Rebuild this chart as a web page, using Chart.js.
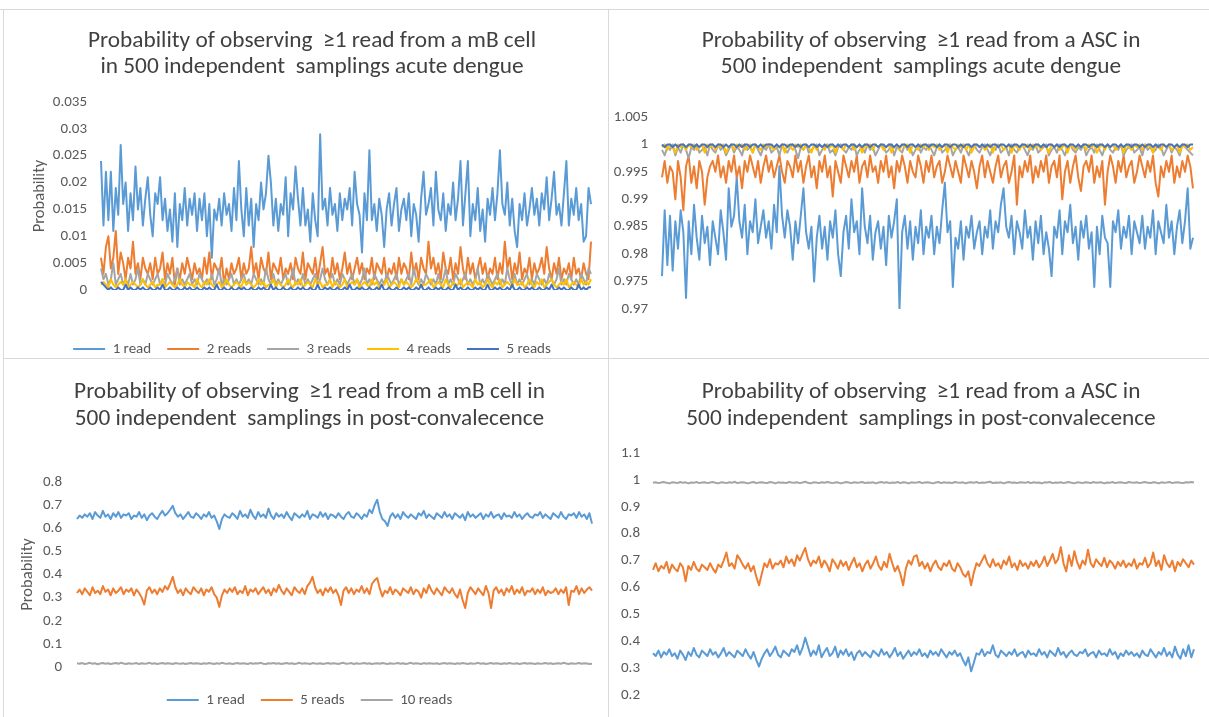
<!DOCTYPE html>
<html><head><meta charset="utf-8">
<script src="https://cdn.jsdelivr.net/npm/chart.js@4.4.1/dist/chart.umd.min.js"></script>
<style>
html,body{margin:0;padding:0;background:#fff;}
body{width:1209px;height:717px;position:relative;overflow:hidden;}
canvas{position:absolute;}
.ln{position:absolute;background:#d9d9d9;}
</style></head><body>
<canvas id="c1" width="605" height="349" style="left:3px;top:9px"></canvas>
<canvas id="c2" width="601" height="349" style="left:608px;top:9px"></canvas>
<canvas id="c3" width="605" height="359" style="left:3px;top:358px"></canvas>
<canvas id="c4" width="601" height="359" style="left:608px;top:358px"></canvas>
<div class="ln" style="left:0;top:9px;width:1209px;height:1px"></div>
<div class="ln" style="left:3px;top:9px;width:1px;height:708px"></div>
<div class="ln" style="left:608px;top:9px;width:1px;height:708px"></div>
<div class="ln" style="left:3px;top:358px;width:1206px;height:1px"></div>
<script>
// ---------- DATA ----------
// Top-left: mB cell, acute dengue
const tl1read = [.024,.012,.022,.013,.022,.011,.019,.014,.027,.016,.020,.011,.018,.013,.023,.015,.019,.012,.017,.021,
.014,.010,.018,.016,.021,.013,.017,.011,.015,.009,.018,.008,.016,.013,.019,.012,.017,.014,.018,.011,
.017,.013,.018,.010,.016,.006,.015,.013,.017,.012,.018,.014,.016,.011,.019,.013,.024,.015,.010,.019,
.012,.017,.008,.016,.013,.020,.015,.018,.025,.020,.012,.017,.011,.016,.014,.021,.010,.018,.015,.023,
.017,.012,.019,.012,.015,.009,.018,.013,.010,.029,.015,.017,.012,.019,.014,.016,.011,.018,.013,.017,
.015,.019,.012,.022,.016,.014,.007,.018,.013,.026,.013,.016,.011,.017,.014,.008,.015,.018,.012,.016,
.019,.011,.015,.017,.013,.018,.010,.016,.014,.009,.017,.022,.014,.016,.019,.012,.022,.015,.013,.018,
.011,.016,.014,.020,.013,.017,.024,.012,.018,.024,.010,.016,.013,.019,.011,.015,.009,.017,.014,.019,
.013,.018,.026,.016,.014,.020,.012,.017,.011,.008,.016,.013,.018,.012,.015,.019,.014,.017,.012,.018,
.015,.021,.013,.017,.022,.014,.016,.012,.018,.024,.012,.017,.014,.019,.013,.016,.009,.010,.019,.016];
const tl2reads = [.006,.003,.008,.010,.004,.006,.011,.003,.007,.005,.002,.006,.004,.009,.003,.005,.002,.006,.004,.003,
.005,.002,.006,.003,.004,.007,.002,.005,.003,.006,.001,.004,.002,.005,.003,.006,.004,.002,.005,.003,
.004,.002,.006,.003,.007,.002,.005,.004,.003,.006,.001,.004,.002,.005,.003,.004,.006,.002,.005,.003,
.004,.008,.003,.005,.002,.006,.004,.003,.007,.002,.005,.004,.003,.006,.002,.004,.003,.005,.002,.006,
.004,.003,.007,.002,.005,.004,.003,.006,.002,.005,.008,.003,.004,.002,.006,.003,.005,.002,.004,.007,
.003,.005,.002,.004,.006,.003,.005,.002,.004,.003,.006,.002,.005,.004,.003,.006,.002,.004,.003,.005,
.002,.006,.003,.005,.004,.002,.007,.003,.005,.002,.006,.004,.003,.009,.004,.006,.003,.005,.002,.007,
.004,.003,.006,.002,.005,.003,.008,.004,.002,.006,.003,.005,.002,.004,.006,.003,.005,.002,.004,.003,
.006,.002,.005,.003,.009,.004,.006,.002,.005,.003,.007,.002,.004,.003,.006,.002,.005,.003,.004,.006,
.003,.008,.004,.002,.005,.003,.006,.002,.004,.003,.005,.002,.006,.003,.004,.002,.005,.003,.002,.009];
const tl3reads = [.004,.002,.003,.001,.002,.005,.001,.002,.003,.001,.002,.001,.003,.001,.002,.004,.001,.002,.001,.003,
.002,.001,.002,.003,.001,.002,.001,.003,.002,.001,.002,.004,.001,.002,.001,.002,.003,.001,.002,.001,
.003,.002,.001,.002,.001,.003,.001,.002,.004,.001,.002,.001,.002,.003,.001,.002,.001,.002,.003,.001,
.002,.001,.003,.002,.001,.002,.001,.004,.002,.001,.003,.001,.002,.001,.002,.003,.001,.002,.004,.001,
.002,.001,.003,.001,.002,.001,.002,.003,.001,.002,.004,.002,.001,.002,.003,.001,.002,.001,.003,.002,
.001,.002,.003,.001,.002,.001,.002,.004,.001,.002,.001,.003,.002,.001,.002,.001,.003,.002,.001,.002,
.003,.001,.002,.001,.002,.003,.001,.004,.002,.001,.002,.001,.003,.002,.001,.002,.001,.003,.001,.002,
.004,.001,.002,.001,.003,.002,.001,.002,.003,.001,.002,.001,.002,.004,.001,.002,.001,.003,.002,.001,
.002,.003,.001,.002,.001,.004,.002,.001,.003,.001,.002,.001,.002,.003,.001,.002,.001,.003,.002,.001,
.002,.001,.003,.002,.001,.002,.004,.001,.002,.001,.003,.002,.001,.002,.001,.003,.002,.001,.004,.003];
const tl4reads = [.001,.0015,.001,.0005,.002,.001,.0005,.001,.0015,.001,.002,.0005,.001,.0015,.001,.0005,.001,.002,.001,.0005,
.001,.0015,.0005,.001,.001,.002,.0005,.001,.0015,.001,.0005,.001,.002,.001,.0005,.0015,.001,.001,.0005,.002,
.001,.0005,.0015,.001,.002,.001,.0005,.001,.0015,.0005,.001,.002,.001,.0005,.001,.0015,.001,.0005,.002,.001,
.0015,.001,.0005,.001,.002,.001,.0015,.0005,.001,.001,.002,.0005,.0015,.001,.0005,.001,.002,.001,.0005,.0015,
.001,.002,.0005,.001,.0015,.001,.0005,.002,.001,.0015,.0005,.001,.001,.002,.0005,.0015,.001,.0005,.001,.002,
.0005,.001,.0015,.001,.002,.0005,.001,.0015,.001,.0005,.002,.001,.0015,.0005,.001,.001,.002,.0005,.001,.0015,
.001,.0005,.002,.001,.0015,.001,.0005,.001,.002,.0015,.0005,.001,.001,.0015,.002,.0005,.001,.0015,.001,.0005,
.002,.001,.0005,.0015,.001,.001,.002,.0005,.001,.0015,.001,.0005,.002,.001,.0015,.0005,.001,.002,.001,.0005,
.0015,.001,.002,.0005,.001,.0015,.001,.0005,.002,.001,.001,.0015,.0005,.001,.002,.001,.0005,.0015,.001,.002,
.0005,.001,.0015,.002,.001,.0005,.001,.0015,.001,.002,.0005,.001,.0015,.001,.0005,.002,.001,.0015,.001,.002];
const tl5reads = [.0015,.001,.0005,0,.0005,0,0,.0005,0,0,.001,0,.0005,0,0,.0005,0,.0005,0,0,
.0005,0,0,.0005,0,.001,0,0,.0005,0,0,.0005,0,0,.0005,0,.0005,0,0,.0005,
0,0,.0005,0,.0005,0,0,.001,0,0,.0005,0,0,.0005,0,0,.0005,0,.0005,0,
0,.0005,0,0,.0005,0,.0005,0,0,.001,0,.0005,0,0,.0005,0,0,.0005,0,0,
.0005,0,.0005,0,0,.0005,0,0,.001,0,0,.0005,0,.0005,0,0,.0005,0,0,.0005,
0,.001,0,0,.0005,0,.0005,0,0,.0005,0,0,.0005,0,.001,0,0,.0005,0,0,
.0005,0,0,.0005,0,.0005,0,0,.0005,0,.001,0,0,.0005,0,0,.0005,0,.0005,0,
0,.0005,0,0,.001,0,.0005,0,0,.0005,0,0,.0005,0,.0005,0,0,.001,0,0,
.0005,0,.0005,0,0,.0005,0,.001,0,0,.0005,0,0,.0005,0,.0005,0,0,.0005,0,
0,.0005,0,.001,0,0,.0005,0,.0005,0,0,.0005,0,0,.001,0,.0005,0,.0005,.0005];

// Top-right: ASC, acute dengue
const tr1read = [.976,.988,.978,.987,.977,.986,.981,.988,.984,.972,.986,.980,.989,.983,.979,.987,.982,.985,.978,.986,
.983,.980,.988,.984,.979,.992,.985,.987,.994,.986,.983,.989,.980,.986,.984,.990,.982,.985,.988,.983,
.986,.981,.989,.984,.996,.987,.983,.988,.985,.979,.986,.982,.987,.992,.984,.981,.985,.975,.983,.987,
.981,.985,.979,.986,.983,.988,.980,.976,.984,.987,.981,.990,.984,.986,.980,.992,.985,.982,.987,.979,
.984,.986,.981,.985,.978,.987,.983,.986,.990,.970,.984,.987,.981,.986,.979,.985,.982,.988,.980,.985,
.983,.987,.980,.985,.982,.988,.993,.984,.986,.974,.983,.981,.986,.979,.985,.983,.987,.981,.984,.986,
.980,.985,.983,.988,.981,.986,.984,.989,.992,.985,.983,.987,.980,.986,.984,.981,.988,.983,.985,.979,
.986,.982,.987,.980,.984,.981,.976,.985,.983,.988,.980,.986,.984,.989,.982,.985,.979,.986,.983,.987,
.981,.984,.974,.985,.980,.987,.983,.982,.974,.986,.984,.988,.981,.985,.983,.987,.980,.986,.984,.982,
.987,.981,.985,.983,.988,.980,.986,.984,.982,.989,.983,.986,.980,.985,.988,.982,.986,.992,.981,.983];
const tr2reads = [.994,.997,.993,.996,.995,.990,.997,.994,.988,.996,.998,.993,.996,.992,.997,.995,.989,.994,.996,.997,
.995,.998,.994,.996,.993,.997,.995,.998,.994,.996,.992,.997,.995,.998,.996,.994,.997,.993,.996,.998,
.995,.997,.994,.996,.998,.995,.993,.997,.996,.994,.998,.995,.997,.993,.996,.998,.994,.996,.992,.997,
.995,.998,.994,.996,.9905,.997,.995,.993,.998,.996,.994,.997,.995,.998,.993,.996,.997,.994,.998,.995,
.996,.993,.997,.995,.998,.994,.996,.992,.997,.995,.998,.996,.993,.997,.995,.994,.998,.996,.993,.997,
.995,.998,.994,.996,.997,.993,.995,.998,.996,.994,.997,.995,.993,.998,.996,.994,.997,.995,.992,.996,
.998,.994,.997,.995,.993,.996,.998,.994,.996,.997,.993,.995,.998,.989,.996,.994,.997,.995,.998,.993,
.996,.994,.997,.995,.998,.993,.996,.997,.994,.998,.990,.995,.997,.993,.996,.998,.994,.9915,.996,.997,
.995,.998,.993,.996,.994,.997,.989,.995,.998,.996,.993,.997,.995,.998,.994,.996,.997,.993,.995,.998,
.996,.994,.997,.995,.998,.993,.9905,.996,.994,.997,.995,.998,.993,.996,.994,.997,.995,.998,.996,.992];
const tr3reads = [.999,.998,.9995,.999,1,.998,.9995,.9985,1,.999,.9975,.9995,.999,1,.9985,.999,.9995,.998,1,.999,
.9985,1,.999,.9995,.998,.999,1,.9985,.9995,.999,.998,1,.999,.9995,.9985,1,.999,.998,.9995,.999,
1,.9985,.999,.9995,.998,1,.999,.9985,.9995,1,.999,.9975,.9995,.999,1,.9985,.999,.9995,1,.998,
.999,.9995,1,.9985,.999,.998,.9995,1,.999,.9985,.9995,.999,1,.998,.999,.9995,.9985,1,.999,.9995,
.998,.999,1,.9995,.9985,.999,1,.998,.9995,.999,.9985,1,.999,.9995,.998,.999,1,.9985,.9995,.999,
1,.999,.998,.9995,1,.9985,.999,.9995,1,.998,.999,.9995,.9985,1,.999,.998,.9995,1,.999,.9985,
.9995,1,.999,.998,.9995,.999,1,.9985,.999,.9995,.998,1,.999,.9985,.9995,1,.999,.998,.9995,.999,
1,.9985,.999,.9995,1,.998,.999,.9995,.9985,1,.999,.998,.9995,1,.999,.9985,.9995,.999,1,.998,
.999,.9995,.9985,1,.999,.998,.9995,1,.999,.9985,.9995,.999,1,.998,.999,.9995,1,.9985,.999,.9995,
.998,1,.999,.9995,.9985,.999,1,.9995,.998,.999,1,.9985,.9995,.999,.998,1,.9995,.999,.9985,.998];
const tr4reads = [.9995,1,.999,1,.9995,.9985,1,.9995,1,.999,1,.9995,1,.999,.9995,1,.9985,1,.9995,1,
.999,1,.9995,1,.9985,.9995,1,.999,1,.9995,1,.999,.9995,1,.9985,1,.9995,.999,1,.9995,
1,.9995,.999,1,.9995,1,.9985,1,.9995,.999,1,.9995,1,.999,1,.9995,.9985,1,.999,1,
.9995,.999,1,.9995,1,.9985,1,.9995,.999,1,.9995,1,.999,.9995,1,.9985,1,.9995,1,.999,
1,.9995,1,.999,.9995,1,.9985,.9995,1,.999,1,.9995,1,.9985,1,.9995,.999,1,.9995,1,
.999,1,.9995,1,.999,.9995,1,.9985,1,.9995,.999,1,.9995,1,.999,1,.9985,.9995,1,.9995,
1,.999,.9995,1,.9985,1,.9995,1,.999,.9995,1,.9985,1,.9995,.999,1,.9995,1,.999,1,
.9995,1,.999,1,.9995,.9985,1,.9995,1,.999,.9995,1,.9985,1,.9995,.999,1,.9995,1,.999,
1,.9995,1,.9985,.9995,1,.999,1,.9995,1,.999,.9995,1,.9985,1,.9995,.999,1,.9995,1,
.999,1,.9995,1,.9985,1,.9995,.999,1,.9995,1,.999,.9995,1,.9985,1,.9995,1,.999,.9995];
const tr5reads = [1,.9995,1,1,.9995,1,.9995,1,1,.9995,1,1,.9995,1,.9995,1,1,.9995,1,1,
.9995,1,1,.9995,1,.9995,1,1,.9995,1,.9995,1,1,.9995,1,1,.9995,1,.9995,1,
1,1,.9995,1,.9995,1,1,.9995,1,1,.9995,1,.9995,1,1,.9995,1,1,.9995,1,
.9995,1,.9995,1,1,.9995,1,.9995,1,1,.9995,1,1,.9995,1,.9995,1,1,.9995,1,
1,.9995,1,1,.9995,1,1,.9995,1,.9995,1,1,.9995,1,1,.9995,1,.9995,1,1,
.9995,1,1,.9995,1,.9995,1,1,.9995,1,1,.9995,1,.9995,1,1,.9995,1,1,.9995,
1,.9995,1,.9995,1,1,.9995,1,1,.9995,1,.9995,1,1,.9995,1,1,.9995,1,.9995,
1,1,.9995,1,.9995,1,1,.9995,1,.9995,1,1,.9995,1,1,.9995,1,.9995,1,1,
.9995,1,1,.9995,1,1,.9995,1,.9995,1,1,.9995,1,.9995,1,1,.9995,1,1,.9995,
1,.9995,1,1,.9995,1,.9995,1,1,.9995,1,1,.9995,1,.9995,1,1,.9995,1,1];

// Bottom-left: mB cell, post-convalescence
const bl1read = [.640,.655,.645,.660,.650,.665,.640,.670,.655,.645,.675,.650,.660,.640,.665,.650,.670,.645,.660,.655,
.665,.640,.655,.650,.670,.645,.660,.635,.655,.665,.650,.640,.660,.675,.655,.665,.680,.697,.665,.650,
.660,.640,.655,.670,.650,.645,.665,.655,.640,.660,.650,.670,.645,.655,.630,.597,.640,.660,.650,.645,
.665,.655,.640,.675,.650,.660,.645,.680,.655,.640,.670,.650,.660,.645,.685,.655,.640,.665,.650,.660,
.645,.670,.650,.635,.665,.655,.645,.660,.650,.675,.640,.660,.655,.645,.670,.650,.665,.640,.660,.655,
.645,.665,.650,.640,.660,.670,.650,.645,.665,.655,.640,.660,.650,.680,.665,.700,.723,.670,.640,.630,
.610,.650,.665,.645,.660,.640,.670,.655,.645,.660,.650,.640,.665,.655,.675,.645,.660,.650,.640,.665,
.655,.645,.670,.650,.660,.640,.665,.655,.645,.660,.635,.670,.650,.660,.645,.655,.665,.640,.660,.650,
.670,.645,.655,.660,.640,.665,.650,.655,.645,.670,.650,.660,.640,.655,.665,.650,.645,.660,.655,.670,
.645,.660,.650,.640,.665,.655,.645,.670,.650,.640,.660,.655,.665,.645,.670,.650,.660,.640,.665,.620];
const bl5reads = [.320,.335,.315,.340,.325,.310,.345,.320,.330,.315,.350,.325,.335,.310,.340,.320,.330,.345,.315,.335,
.325,.340,.310,.335,.320,.300,.270,.330,.345,.320,.335,.315,.340,.325,.350,.335,.360,.390,.345,.320,
.335,.310,.340,.325,.315,.345,.330,.320,.340,.310,.335,.325,.345,.315,.300,.260,.310,.335,.320,.340,
.325,.345,.315,.330,.320,.350,.310,.335,.325,.340,.315,.330,.345,.320,.335,.310,.340,.325,.355,.330,
.315,.340,.325,.310,.345,.330,.320,.340,.315,.350,.365,.390,.345,.320,.335,.310,.340,.325,.345,.320,
.335,.310,.268,.330,.345,.320,.340,.315,.335,.325,.350,.320,.340,.315,.360,.375,.385,.340,.305,.330,
.320,.345,.315,.335,.325,.310,.340,.330,.320,.345,.315,.335,.325,.300,.340,.320,.355,.330,.315,.340,
.325,.310,.345,.330,.320,.340,.315,.300,.335,.290,.255,.320,.345,.330,.315,.340,.325,.310,.350,.320,
.255,.330,.345,.320,.335,.310,.340,.325,.350,.315,.335,.320,.345,.310,.330,.325,.340,.315,.335,.320,
.345,.310,.330,.320,.325,.340,.315,.335,.320,.345,.268,.330,.325,.350,.315,.340,.320,.335,.345,.330];
const bl10reads = [.016,.014,.017,.013,.015,.018,.014,.016,.012,.015,.017,.014,.016,.013,.015,.017,.014,.018,.015,.013,
.016,.014,.015,.017,.013,.016,.014,.015,.018,.014,.016,.013,.015,.017,.014,.016,.015,.013,.017,.015,
.014,.016,.013,.015,.017,.014,.016,.015,.013,.016,.014,.017,.015,.013,.016,.014,.018,.015,.014,.016,
.013,.015,.017,.014,.016,.015,.013,.017,.014,.016,.015,.018,.014,.013,.016,.015,.017,.014,.016,.013,
.015,.017,.014,.016,.013,.015,.018,.014,.016,.015,.013,.017,.015,.014,.016,.013,.015,.017,.014,.016,
.015,.013,.016,.018,.014,.015,.017,.013,.016,.014,.015,.017,.014,.016,.013,.015,.016,.014,.017,.015,
.013,.016,.014,.015,.017,.014,.016,.013,.015,.018,.014,.016,.015,.013,.017,.014,.016,.015,.014,.016,
.013,.015,.017,.014,.016,.015,.013,.016,.014,.017,.015,.013,.016,.014,.015,.018,.014,.016,.013,.015,
.017,.014,.016,.015,.013,.016,.014,.017,.015,.014,.016,.013,.015,.017,.014,.016,.015,.013,.016,.014,
.015,.017,.014,.016,.013,.015,.016,.014,.018,.015,.013,.016,.014,.015,.017,.014,.016,.015,.013,.014];

// Bottom-right: ASC, post-convalescence
const br1read = [.355,.345,.365,.340,.360,.350,.370,.345,.355,.335,.365,.350,.330,.360,.345,.375,.350,.340,.365,.355,
.345,.370,.350,.360,.340,.355,.375,.345,.360,.350,.340,.365,.355,.345,.370,.350,.335,.360,.330,.306,
.335,.355,.370,.345,.360,.380,.350,.340,.365,.355,.345,.370,.360,.385,.350,.375,.413,.380,.345,.365,
.350,.385,.340,.360,.375,.345,.355,.380,.340,.365,.350,.370,.345,.360,.330,.355,.365,.345,.360,.350,
.340,.365,.355,.345,.370,.350,.360,.340,.355,.375,.345,.360,.335,.350,.365,.345,.360,.350,.370,.345,
.355,.340,.365,.350,.360,.345,.370,.355,.340,.360,.350,.365,.345,.355,.330,.310,.340,.288,.320,.355,
.350,.370,.345,.360,.355,.385,.350,.340,.365,.355,.345,.360,.350,.370,.345,.355,.360,.340,.365,.350,
.355,.345,.370,.350,.360,.340,.365,.355,.345,.375,.350,.360,.340,.355,.365,.350,.345,.360,.355,.370,
.345,.355,.360,.340,.365,.350,.355,.345,.370,.350,.360,.335,.355,.345,.365,.350,.360,.345,.355,.340,
.365,.350,.345,.370,.355,.340,.360,.350,.375,.345,.360,.340,.380,.350,.335,.370,.345,.385,.340,.370];
const br5reads = [.665,.690,.660,.680,.670,.695,.655,.685,.670,.660,.690,.675,.623,.680,.665,.695,.670,.660,.685,.675,
.665,.690,.670,.655,.685,.675,.700,.730,.680,.690,.670,.720,.705,.685,.670,.690,.660,.680,.640,.608,
.650,.690,.675,.705,.670,.690,.685,.700,.675,.715,.690,.705,.680,.720,.700,.725,.747,.705,.680,.700,
.690,.715,.675,.700,.685,.660,.705,.690,.670,.700,.680,.695,.665,.690,.710,.675,.690,.660,.685,.700,
.670,.690,.715,.680,.665,.695,.675,.725,.690,.660,.680,.650,.608,.670,.700,.685,.715,.720,.680,.695,
.670,.690,.660,.685,.700,.675,.665,.690,.680,.700,.670,.660,.690,.675,.650,.640,.660,.608,.655,.690,
.680,.700,.720,.690,.675,.705,.680,.690,.670,.700,.685,.715,.675,.690,.665,.700,.680,.690,.670,.695,
.680,.700,.675,.690,.715,.680,.700,.725,.690,.705,.750,.690,.660,.720,.680,.735,.695,.670,.700,.685,
.740,.690,.675,.705,.690,.680,.710,.675,.700,.690,.670,.695,.680,.700,.675,.690,.680,.705,.670,.690,
.685,.710,.675,.690,.730,.680,.700,.665,.720,.690,.675,.700,.660,.695,.680,.705,.690,.675,.700,.685];
const br10reads = [.989,.991,.988,.990,.992,.989,.987,.991,.990,.988,.992,.989,.991,.987,.990,.989,.992,.988,.990,.991,
.988,.990,.992,.989,.987,.991,.990,.988,.991,.989,.993,.988,.990,.991,.989,.987,.990,.992,.988,.990,
.991,.989,.988,.992,.990,.987,.991,.989,.990,.988,.992,.990,.989,.991,.988,.990,.993,.989,.987,.991,
.990,.988,.991,.989,.992,.990,.988,.990,.991,.987,.989,.992,.990,.988,.991,.989,.990,.992,.988,.990,
.989,.991,.987,.990,.992,.989,.991,.988,.990,.989,.992,.988,.991,.990,.987,.991,.989,.990,.992,.988,
.990,.991,.989,.987,.990,.992,.988,.991,.989,.990,.988,.992,.990,.989,.991,.987,.990,.991,.989,.992,
.988,.990,.989,.991,.993,.988,.990,.989,.991,.987,.990,.992,.989,.990,.988,.991,.990,.989,.992,.988,
.991,.989,.990,.987,.991,.990,.992,.988,.990,.989,.991,.988,.990,.992,.989,.987,.991,.990,.988,.991,
.990,.988,.992,.989,.990,.991,.987,.990,.989,.992,.988,.990,.991,.989,.988,.992,.990,.989,.991,.988,
.990,.992,.989,.988,.991,.990,.987,.991,.989,.990,.992,.988,.990,.991,.989,.988,.991,.990,.992,.990];

// Titles / labels
const tlTitle = ['Probability of observing  \u22651 read from a mB cell', 'in 500 independent  samplings acute dengue'];
const trTitle = ['Probability of observing  \u22651 read from a ASC in', '500 independent  samplings acute dengue'];
const blTitle = ['Probability of observing  \u22651 read from a mB cell in', '500 independent  samplings in post-convalecence'];
const brTitle = ['Probability of observing  \u22651 read from a ASC in', '500 independent  samplings in post-convalecence'];
const acuteLabels = ['1 read', '2 reads', '3 reads', '4 reads', '5 reads'];
const convLabels = ['1 read', '5 reads', '10 reads'];
const yAxisTitle = 'Probability';

// ---------- STYLE ----------
const BLUE = '#5B9BD5', ORANGE = '#ED7D31', GRAY = '#A5A5A5', YELLOW = '#FFC000', DBLUE = '#4472C4';
const FONT = 'Carlito, Lato, "Open Sans", sans-serif';
const TXT = '#595959';
const fmt = v => String(parseFloat(Number(v).toFixed(4)));

function build(id, c) {
  const labels = c.series[0].data.map((_, i) => i + 1);
  const n = c.series.length;
  const datasets = c.series.map((s, i) => ({
    label: s.label, data: s.data, borderColor: s.color, backgroundColor: s.color,
    borderWidth: c.lw, pointRadius: 0, pointHoverRadius: 0, pointStyle: 'line',
    pointBorderWidth: 2, tension: 0, borderJoinStyle: 'round', fill: false, order: n - i
  }));
  const scales = {
    x: {
      display: c.xH > 0,
      ticks: { display: false }, grid: { display: false, drawTicks: false }, border: { display: false },
      afterFit: s => { s.height = c.xH; }
    },
    y: {
      min: c.min, max: c.max,
      ticks: { stepSize: c.step, padding: c.tickPad, color: TXT, font: { family: FONT, size: 15 }, callback: fmt },
      grid: { display: false, drawTicks: false }, border: { display: false },
      title: c.yTitle ? {
        display: true, text: yAxisTitle, color: TXT,
        font: { family: FONT, size: 16.5, lineHeight: 1.2 },
        padding: { top: c.yTitlePad, bottom: 0 }
      } : { display: false },
      afterFit: s => { s.width = c.yW; }
    }
  };
  if (c.rW) {
    scales.yRight = {
      position: 'right', display: true,
      ticks: { display: false }, grid: { display: false, drawTicks: false }, border: { display: false },
      afterFit: s => { s.width = c.rW; }
    };
  }
  new Chart(document.getElementById(id), {
    type: 'line',
    data: { labels, datasets },
    options: {
      responsive: false, animation: false, events: [],
      layout: { padding: c.pad },
      plugins: {
        tooltip: { enabled: false },
        title: {
          display: true, text: c.title, color: '#404040',
          font: { family: FONT, size: 23.3, weight: 'normal', lineHeight: c.tlh + 'px' },
          padding: { top: c.tpad[0], bottom: c.tpad[1] }
        },
        legend: c.legend ? {
          display: true, position: 'bottom',
          labels: {
            usePointStyle: true, pointStyleWidth: 32, color: TXT, padding: 16,
            font: { family: FONT, size: 15 },
            sort: (a, b) => a.datasetIndex - b.datasetIndex
          }
        } : { display: false }
      },
      scales
    }
  });
}

build('c1', {
  title: tlTitle, tlh: 26.5, tpad: [18.75, 21.25], lw: 2,
  pad: { left: 30, right: 17, top: 0, bottom: -8.5 }, yW: 68, xH: 35.5, legend: true,
  min: 0, max: 0.035, step: 0.005, tickPad: 14, yTitle: true, yTitlePad: -2.9,
  series: [
    { label: acuteLabels[0], data: tl1read, color: BLUE },
    { label: acuteLabels[1], data: tl2reads, color: ORANGE },
    { label: acuteLabels[2], data: tl3reads, color: GRAY },
    { label: acuteLabels[3], data: tl4reads, color: YELLOW },
    { label: acuteLabels[4], data: tl5reads, color: DBLUE }
  ]
});
build('c2', {
  title: trTitle, tlh: 26.5, tpad: [18.75, 36.25], lw: 2,
  pad: { left: 2, right: -23, top: 0, bottom: 49 }, yW: 52, rW: 39, xH: 0, legend: false,
  min: 0.97, max: 1.005, step: 0.005, tickPad: 14, yTitle: false,
  series: [
    { label: acuteLabels[0], data: tr1read, color: BLUE },
    { label: acuteLabels[1], data: tr2reads, color: ORANGE },
    { label: acuteLabels[2], data: tr3reads, color: GRAY },
    { label: acuteLabels[3], data: tr4reads, color: YELLOW },
    { label: acuteLabels[4], data: tr5reads, color: DBLUE }
  ]
});
build('c3', {
  title: blTitle, tlh: 27, tpad: [20.5, 49.5], lw: 2,
  pad: { left: 24, right: 16, top: 0, bottom: -0.5 }, yW: 50, xH: 9.5, legend: true,
  min: 0, max: 0.8, step: 0.1, tickPad: 15, yTitle: true, yTitlePad: -8.9,
  series: [
    { label: convLabels[0], data: bl1read, color: BLUE },
    { label: convLabels[1], data: bl5reads, color: ORANGE },
    { label: convLabels[2], data: bl10reads, color: GRAY }
  ]
});
build('c4', {
  title: brTitle, tlh: 27, tpad: [20.5, 20.5], lw: 2,
  pad: { left: 2, right: -23, top: 0, bottom: 11 }, yW: 43, rW: 38, xH: 0, legend: false,
  min: 0.2, max: 1.1, step: 0.1, tickPad: 13, yTitle: false,
  series: [
    { label: convLabels[0], data: br1read, color: BLUE },
    { label: convLabels[1], data: br5reads, color: ORANGE },
    { label: convLabels[2], data: br10reads, color: GRAY }
  ]
});
</script>
</body></html>
